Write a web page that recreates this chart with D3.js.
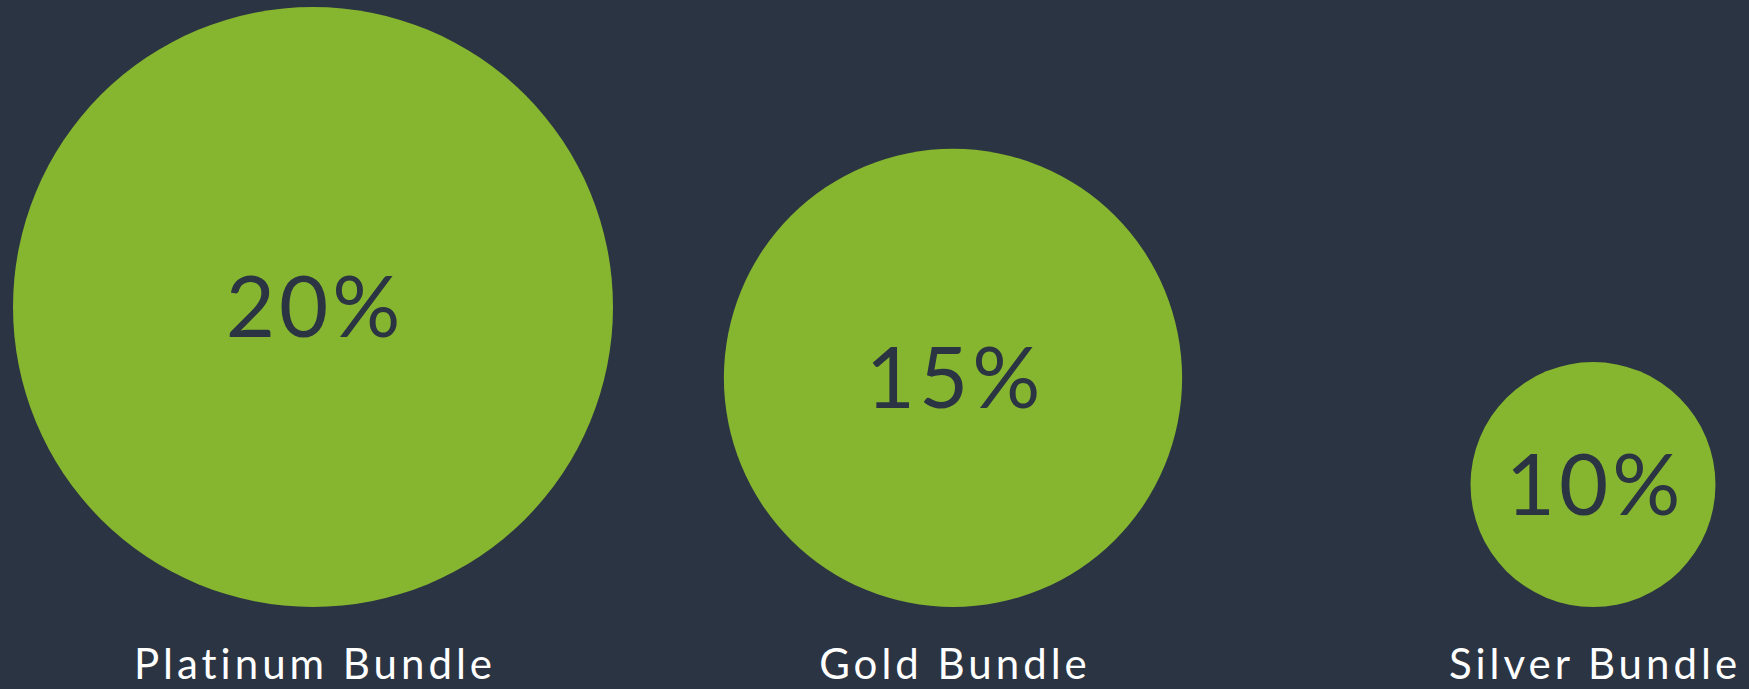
<!DOCTYPE html>
<html>
<head>
<meta charset="utf-8">
<script src="https://cdn.jsdelivr.net/npm/d3@7"></script>
<style>
  html, body { margin: 0; padding: 0; background: #2b3442; }
  svg { display: block; }
  text { font-variant-ligatures: none; }
</style>
</head>
<body>
<div class="bubble-chart"></div>
<script>
// Bubble chart: bundle discounts

var bundles = ["Platinum Bundle", "Gold Bundle", "Silver Bundle"];
var discounts = [20, 15, 10];

var width = 1749;
var height = 689;

var svg = d3.select('.bubble-chart')
    .append('svg')
        .attr('width', width)
        .attr('height', height);

svg.append('rect')
    .attr('width', width)
    .attr('height', height)
    .attr('fill', '#2b3442');

var x = d3.scalePoint()
    .domain(bundles)
    .range([313, 1593]);

// circle area grows with the discount
var r = d3.scaleRadial()
    .domain([8, 20])
    .range([0, 300]);

var base = 607; // circles sit on a common bottom line

var nodes = svg.selectAll('.bubble')
    .data(bundles)
    .enter()
    .append('g')
        .attr('class', 'bubble')
        .attr('transform', function(d, i) {
            return 'translate(' + x(d) + ',' + (base - r(discounts[i])) + ')';
        });

nodes.append('circle')
    .attr('r', function(d, i) { return r(discounts[i]); })
    .attr('fill', '#86b530');

nodes.append('text')
    .attr('text-anchor', 'middle')
    .attr('x', 2)
    .attr('y', 30)
    .style('font-family', 'Lato, sans-serif')
    .style('font-size', '85px')
    .style('letter-spacing', '4px')
    .style('fill', '#2b3442')
    .text(function(d, i) { return discounts[i] + '%'; });

svg.selectAll('.label')
    .data(bundles)
    .enter()
    .append('text')
        .attr('class', 'label')
        .attr('x', function(d) { return x(d) + 2; })
        .attr('y', 679)
        .attr('text-anchor', 'middle')
        .style('font-family', 'Lato, sans-serif')
        .style('font-size', '42px')
        .style('letter-spacing', '4px')
        .style('fill', '#ffffff')
        .text(function(d) { return d; });
</script>
</body>
</html>
